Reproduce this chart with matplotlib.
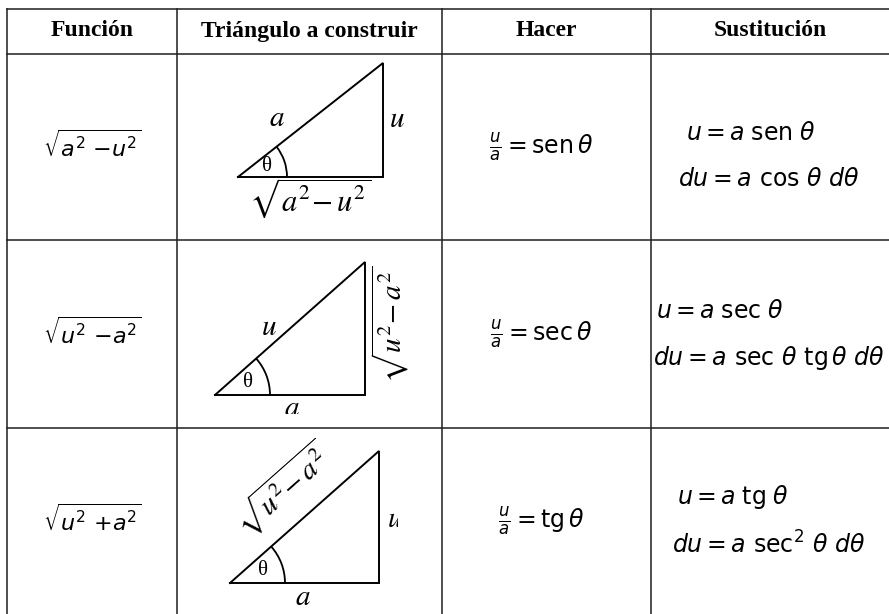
import numpy as np
import matplotlib
matplotlib.use("Agg")
import matplotlib.pyplot as plt
from matplotlib.patches import Arc
from matplotlib.transforms import Bbox, TransformedBbox

plt.rcParams["font.family"] = ["Liberation Serif", "DejaVu Serif"]
plt.rcParams["mathtext.fontset"] = "dejavusans"

# contenido de la tabla
headers = ["Función", "Triángulo a construir", "Hacer", "Sustitución"]
funciones = [r"$\sqrt{a^2\ {-}u^2}$", r"$\sqrt{u^2\ {-}a^2}$", r"$\sqrt{u^2\ {+}a^2}$"]
hacer = [r"$\frac{u}{a} = \mathrm{sen}\,\theta$",
         r"$\frac{u}{a} = \mathrm{sec}\,\theta$",
         r"$\frac{u}{a} = \mathrm{tg}\,\theta$"]
sust_u = [r"$u = a\;\mathrm{sen}\;\theta$",
          r"$u = a\;\mathrm{sec}\;\theta$",
          r"$u = a\;\mathrm{tg}\;\theta$"]
sust_du = [r"$du = a\ \mathrm{cos}\ \theta\ d\theta$",
           r"$du = a\ \mathrm{sec}\ \theta\ \mathrm{tg}\,\theta\ d\theta$",
           r"$du = a\ \mathrm{sec}^2\ \theta\ d\theta$"]
lado_hip = [r"$a$", r"$u$", r"$\sqrt{u^2\!-a^2}$"]
lado_op = [r"$u$", r"$\sqrt{u^2\!-a^2}$", r"$u$"]
lado_ady = [r"$\sqrt{a^2\!-u^2}$", r"$a$", r"$a$"]
angulo = "θ"

# layout (pixeles)
W, H = 889, 614
col_x = [7, 177, 442, 651]
row_y = [9, 54, 240, 428]
tri_origin = [(238, 177), (215, 395), (230, 583)]
tri_size = [(145, 114), (150, 133), (149, 132)]
arc_r = [49, 55, 55]

fig = plt.figure(figsize=(W / 100, H / 100), dpi=100)
ax = fig.add_axes([0, 0, 1, 1])
ax.set_xlim(0, W)
ax.set_ylim(H, 0)
ax.set_aspect("equal")
ax.axis("off")

lc = "#1e1e1e"
for x in col_x:
    ax.plot([x, x], [row_y[0], H], color=lc, lw=1.1)
for y in row_y:
    ax.plot([col_x[0], W], [y, y], color=lc, lw=1.1)

bounds = col_x + [W]
for i, h in enumerate(headers):
    cx = (bounds[i] + bounds[i + 1]) / 2
    ax.text(cx, 31, h, ha="center", va="center", fontsize=17, fontweight="bold")

row_mid = [(row_y[1] + row_y[2]) / 2, (row_y[2] + row_y[3]) / 2, (row_y[3] + H) / 2]
u_off = [-14, -22, -24]
du_off = [33, 24, 24]
u_x = [751, 720, 733]

for i in range(3):
    cy = row_mid[i]
    ax.text(92, cy, funciones[i], ha="center", va="center", fontsize=16)
    ax.text(541, cy, hacer[i], ha="center", va="center", fontsize=17)
    ax.text(u_x[i], cy + u_off[i], sust_u[i], ha="center", va="center", fontsize=17)
    ax.text(769, cy + du_off[i], sust_du[i], ha="center", va="center", fontsize=17)

    # triangulo
    x0, y0 = tri_origin[i]
    b, h = tri_size[i]
    ax.plot([x0, x0 + b, x0 + b, x0], [y0, y0, y0 - h, y0], color="black", lw=1.4,
            solid_joinstyle="miter")
    ang = np.degrees(np.arctan2(h, b))
    r = arc_r[i]
    ax.add_patch(Arc((x0, y0), 2 * r, 2 * r, theta1=-ang, theta2=0, color="black", lw=1.3))
    ax.text(x0 + r * 0.6, y0 - r * 0.22, angulo, ha="center", va="center", fontsize=15)

kw = dict(ha="center", va="center", math_fontfamily="stix")


def recortar(t, x0, y0, x1, y1):
    t.set_clip_box(TransformedBbox(Bbox([[x0, y0], [x1, y1]]), ax.transData))
    t.set_clip_on(True)


# fila 1
ax.text(277, 119, lado_hip[0], fontsize=21, **kw)
ax.text(397, 120, lado_op[0], fontsize=21, **kw)
ax.text(310, 198, lado_ady[0], fontsize=22, **kw)

# fila 2
ax.text(269, 328, lado_hip[1], fontsize=21, **kw)
ax.text(390, 324, lado_op[1], fontsize=21, rotation=90, rotation_mode="anchor", **kw)
t = ax.text(292, 409, lado_ady[1], fontsize=21, **kw)
recortar(t, 200, 395, 400, 414)

# fila 3
ax.text(283, 490, lado_hip[2], fontsize=21, rotation=41.5, rotation_mode="anchor", **kw)
t = ax.text(395, 520, lado_op[2], fontsize=21, **kw)
recortar(t, 380, 500, 398, 540)
t = ax.text(303, 598, lado_ady[2], fontsize=21, **kw)
recortar(t, 280, 585, 330, 605)

fig.savefig("out.png", dpi=100)
